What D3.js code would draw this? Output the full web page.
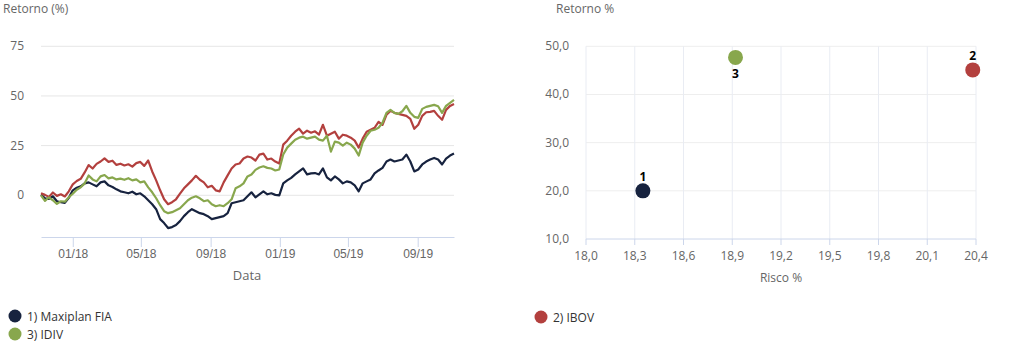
<!DOCTYPE html>
<html>
<head>
<meta charset="utf-8">
<script src="https://cdn.jsdelivr.net/npm/d3@7"></script>
<style>
  body { margin: 0; background: #fff; }
  svg { display: block; font-family: "Open Sans", "DejaVu Sans", sans-serif; }
</style>
</head>
<body>
<div id="chart"></div>
<script>
// weekly returns (%), Mondays from 06/11/2017 to 04/11/2019
const startDate = new Date(2017, 10, 6);

const maxiplan = [0.3, -1.5, -1.8, -0.5, -3.0, -3.5, -3.8, -1.3, 2.5, 3.8,
  4.5, 6.0, 6.5, 5.5, 4.5, 6.5, 7.0, 5.0, 4.2, 3.0,
  2.0, 1.5, 1.0, 1.8, 0.5, 1.0, -0.5, -2.5, -4.5, -7.0,
  -12.0, -14.0, -16.5, -16.0, -15.0, -13.0, -10.5, -8.5, -7.0, -8.0,
  -9.0, -9.5, -10.5, -12.0, -11.5, -11.0, -10.5, -9.0, -4.0, -3.5,
  -3.0, -2.5, -0.5, 1.5, -1.0, 0.5, 2.0, 0.5, 1.0, 0.2,
  0.0, 6.0, 7.5, 8.8, 10.5, 12.0, 13.5, 10.5, 11.0, 11.2,
  10.5, 13.5, 9.0, 7.5, 9.5, 8.0, 6.0, 7.0, 6.5, 5.0,
  2.0, 6.0, 7.0, 8.0, 11.0, 12.5, 13.8, 17.0, 18.0, 17.0,
  17.5, 18.0, 20.5, 17.0, 12.0, 13.0, 15.5, 17.0, 18.0, 18.8,
  18.0, 15.5, 18.5, 20.0, 21.0];

const ibov = [1.0, 0.2, -0.8, 1.4, -0.3, 0.5, -0.6, 2.0, 5.5, 7.2,
  8.3, 11.5, 15.2, 13.5, 15.8, 17.0, 18.6, 16.8, 17.4, 15.3,
  15.9, 15.0, 15.6, 14.4, 16.2, 16.8, 14.8, 17.5, 12.0, 7.5,
  2.5, -2.0, -4.5, -3.5, -2.0, 0.8, 3.5, 5.5, 7.5, 9.8,
  7.8, 6.5, 4.0, 4.8, 2.5, 2.0, 6.5, 10.0, 13.5, 15.5,
  16.0, 18.5, 19.5, 19.0, 17.5, 20.5, 21.0, 18.0, 18.5, 17.0,
  16.0, 25.5, 27.5, 30.0, 32.0, 33.5, 31.0, 32.5, 31.5, 32.2,
  30.5, 35.5, 30.0, 31.0, 32.0, 28.5, 30.5, 30.0, 29.0, 27.5,
  24.0, 28.5, 32.0, 33.0, 34.0, 37.0, 35.5, 40.5, 42.5, 41.5,
  41.0, 40.5, 40.0, 38.5, 33.5, 35.5, 40.0, 41.8, 42.0, 42.5,
  40.0, 38.0, 43.0, 45.0, 46.0];

const idiv = [0.0, -2.8, -1.0, -2.5, -4.3, -3.0, -3.2, -1.0, 0.8, 2.8,
  4.0, 6.0, 10.0, 8.0, 7.0, 9.5, 10.2, 8.5, 9.0, 8.0,
  8.4, 7.8, 8.6, 7.5, 8.0, 6.5, 7.0, 4.0, 1.5, -1.5,
  -5.0, -8.0, -9.0, -8.5, -7.5, -6.5, -4.5, -2.5, -1.2, -0.5,
  -1.5, -3.0, -2.5, -4.5, -5.5, -5.0, -5.5, -4.0, -2.0, 3.5,
  4.5, 6.0, 9.5, 10.5, 12.8, 14.0, 14.6, 13.8, 13.5, 12.5,
  13.0, 20.5, 24.0, 26.0, 28.0, 29.0, 29.5, 28.5, 29.0, 29.5,
  28.0, 27.5, 30.0, 22.0, 27.0, 26.5, 25.0, 26.5, 25.5, 23.5,
  20.0, 26.5, 30.0, 32.5, 33.0, 34.0, 36.5, 41.5, 43.0, 41.5,
  41.0, 42.3, 45.0, 41.5, 39.5, 39.0, 43.5, 44.5, 45.0, 45.5,
  44.8, 41.5, 45.0, 46.5, 48.0];

// risk x return
const labels = ["1", "2", "3"];
const names = ["Maxiplan FIA", "IBOV", "IDIV"];
const colors = ["#17233f", "#b3403e", "#88a74d"];
const risco = [18.35, 20.38, 18.92];
const retorno = [20.0, 45.1, 47.7];

const lineTicks = [-0, 25, 50, 75];
const scatterXTicks = [18.0, 18.3, 18.6, 18.9, 19.2, 19.5, 19.8, 20.1, 20.4];
const scatterYTicks = [10, 20, 30, 40, 50];

const dates = maxiplan.map((v, i) => d3.timeDay.offset(startDate, i * 7));
const seriesList = [
  {name: "1", values: maxiplan, color: colors[0]},
  {name: "2", values: ibov, color: colors[1]},
  {name: "3", values: idiv, color: colors[2]}
];

const width = 1010, height = 351;
const svg = d3.select("#chart").append("svg")
  .attr("width", width)
  .attr("height", height);

const labelColor = "#666666";
const gridColor = "#e6e6e6";
const axisColor = "#ccd6eb";

// ---------- line chart ----------
const xScale = d3.scaleTime()
  .domain([startDate, dates[dates.length - 1]])
  .range([41, 454]);

const yScale = d3.scaleLinear()
  .domain([-21, 75])
  .range([237, 46.3]);

const left = svg.append("g");

left.selectAll(".grid")
  .data(lineTicks)
  .join("line")
  .attr("x1", 41).attr("x2", 454)
  .attr("y1", d => yScale(d)).attr("y2", d => yScale(d))
  .attr("stroke", gridColor);

left.selectAll(".ylab")
  .data(lineTicks)
  .join("text")
  .attr("x", 24)
  .attr("y", d => yScale(d) + 4)
  .attr("text-anchor", "end")
  .attr("font-size", 12)
  .attr("fill", labelColor)
  .text(d => d3.format("d")(d));

const xAxis = d3.axisBottom(xScale)
  .tickValues([new Date(2018, 0, 1), new Date(2018, 4, 1), new Date(2018, 8, 1),
               new Date(2019, 0, 1), new Date(2019, 4, 1), new Date(2019, 8, 1)])
  .tickFormat(d3.timeFormat("%m/%y"))
  .tickSize(10)
  .tickSizeOuter(0);

const xg = left.append("g")
  .attr("transform", "translate(0,237)")
  .call(xAxis);
xg.select(".domain").attr("stroke", axisColor);
xg.selectAll(".tick line").attr("stroke", axisColor);
xg.selectAll(".tick text")
  .attr("font-size", 12)
  .attr("font-family", null)
  .attr("fill", labelColor)
  .attr("y", 12);

const lineGenerator = d3.line()
  .x((d, i) => xScale(dates[i]))
  .y(d => yScale(d));

left.selectAll(".series")
  .data(seriesList)
  .join("path")
  .attr("d", d => lineGenerator(d.values))
  .attr("fill", "none")
  .attr("stroke", d => d.color)
  .attr("stroke-width", 2.2)
  .attr("stroke-linejoin", "round");

left.append("text")
  .attr("x", 3).attr("y", 13)
  .attr("font-size", 12)
  .attr("fill", labelColor)
  .text("Retorno (%)");

left.append("text")
  .attr("x", 247).attr("y", 280)
  .attr("text-anchor", "middle")
  .attr("font-size", 13)
  .attr("fill", labelColor)
  .text("Data");

// ---------- scatter ----------
const sx = d3.scaleLinear().domain([18.0, 20.4]).range([586, 976]);
const sy = d3.scaleLinear().domain([10, 50]).range([239, 46.3]);
const comma = v => d3.format(".1f")(v).replace(".", ",");

const right = svg.append("g");

right.selectAll(".hgrid")
  .data(scatterYTicks.slice(1))
  .join("line")
  .attr("x1", 586).attr("x2", 976)
  .attr("y1", d => sy(d)).attr("y2", d => sy(d))
  .attr("stroke", "#eeeeee");

right.selectAll(".vgrid")
  .data(scatterXTicks)
  .join("line")
  .attr("x1", d => sx(d)).attr("x2", d => sx(d))
  .attr("y1", 46.3).attr("y2", 239)
  .attr("stroke", "#e9ecf3");

right.append("line")
  .attr("x1", 586).attr("x2", 976)
  .attr("y1", 239).attr("y2", 239)
  .attr("stroke", axisColor);

right.selectAll(".xtick")
  .data(scatterXTicks)
  .join("line")
  .attr("x1", d => sx(d)).attr("x2", d => sx(d))
  .attr("y1", 239).attr("y2", 245)
  .attr("stroke", axisColor);

right.selectAll(".xlab")
  .data(scatterXTicks)
  .join("text")
  .attr("x", d => sx(d))
  .attr("y", 260)
  .attr("text-anchor", "middle")
  .attr("font-size", 12)
  .attr("fill", labelColor)
  .text(d => comma(d));

right.selectAll(".ylab")
  .data(scatterYTicks)
  .join("text")
  .attr("x", 569)
  .attr("y", d => sy(d) + 4)
  .attr("text-anchor", "end")
  .attr("font-size", 12)
  .attr("fill", labelColor)
  .text(d => comma(d));

right.selectAll(".pt")
  .data(labels)
  .join("circle")
  .attr("cx", (d, i) => sx(risco[i]))
  .attr("cy", (d, i) => sy(retorno[i]))
  .attr("r", 7.5)
  .attr("fill", (d, i) => colors[i]);

right.selectAll(".ptlab")
  .data(labels)
  .join("text")
  .attr("x", (d, i) => sx(risco[i]))
  .attr("y", (d, i) => d === "3" ? sy(retorno[i]) + 21 : sy(retorno[i]) - 10)
  .attr("text-anchor", "middle")
  .attr("font-size", 12)
  .attr("font-weight", "bold")
  .attr("fill", "#000")
  .text(d => d);

right.append("text")
  .attr("x", 556).attr("y", 13)
  .attr("font-size", 12)
  .attr("fill", labelColor)
  .text("Retorno %");

right.append("text")
  .attr("x", 781).attr("y", 282)
  .attr("text-anchor", "middle")
  .attr("font-size", 12)
  .attr("fill", labelColor)
  .text("Risco %");

// ---------- legend ----------
const legendPos = [[15, 316], [541, 317], [15, 334]];
const legend = svg.append("g");
legend.selectAll("circle")
  .data(labels)
  .join("circle")
  .attr("cx", (d, i) => legendPos[i][0])
  .attr("cy", (d, i) => legendPos[i][1])
  .attr("r", 6.5)
  .attr("fill", (d, i) => colors[i]);
legend.selectAll("text")
  .data(labels)
  .join("text")
  .attr("x", (d, i) => legendPos[i][0] + 12)
  .attr("y", (d, i) => legendPos[i][1] + 4.5)
  .attr("font-size", 12)
  .attr("fill", "#333333")
  .text((d, i) => `${d}) ${names[i]}`);
</script>
</body>
</html>
